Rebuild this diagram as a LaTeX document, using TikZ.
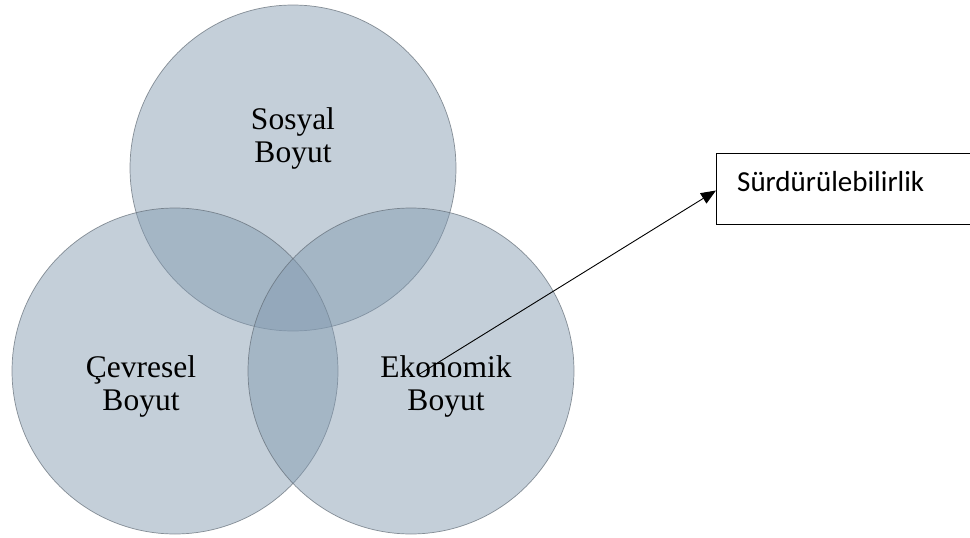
\documentclass[tikz,border=0pt]{standalone}
\usepackage{fontspec}
\setmainfont{Liberation Serif}
\newfontfamily\calibrifont{Carlito}
\usetikzlibrary{arrows.meta}
\definecolor{circfill}{RGB}{130,154,176}
\definecolor{circedge}{RGB}{95,105,115}
\tikzset{
  venn/.style={circle, minimum size=326pt, inner sep=0pt, fill=circfill, fill opacity=0.47, draw=circedge, draw opacity=0.7, line width=0.7pt},
  venntext/.style={align=center, inner sep=0pt, font=\fontsize{31.5pt}{33pt}\selectfont, text opacity=1},
  boxstyle/.style={draw=black, line width=1.1pt, fill=white, rectangle, inner sep=0pt},
  boxtext/.style={inner sep=0pt, font=\calibrifont\fontsize{29pt}{32pt}\selectfont},
  conn/.style={line width=0.9pt, -{Triangle[length=15pt,width=12pt]}}
}
\begin{document}
\begin{tikzpicture}[x=1pt,y=-1pt]
\useasboundingbox (0,0) rectangle (970,538);
\clip (0,0) rectangle (970,538);
\fill[white] (0,0) rectangle (970,538);
\node[venn] (top) at (293,168) {};
\node[venn] (left) at (175,371) {};
\node[venn] (right) at (411,371) {};
\node[venntext] (tsos) at (293,138.5) {Sosyal\\Boyut};
\node[venntext] (tcev) at (141,386.5) {Çevresel\\Boyut};
\node[venntext] (teko) at (446,386.5) {Ekonomik\\Boyut};
\node[boxstyle, anchor=north west, minimum width=300pt, minimum height=71.5pt] (box) at (716,152.5) {};
\node[boxtext, anchor=base west] (lbl) at (737,191.7) {Sürdürülebilirlik};
\coordinate (s) at (418,375);
\draw[conn] (s) -- ([yshift=-1.7pt]box.west);
\end{tikzpicture}
\end{document}
